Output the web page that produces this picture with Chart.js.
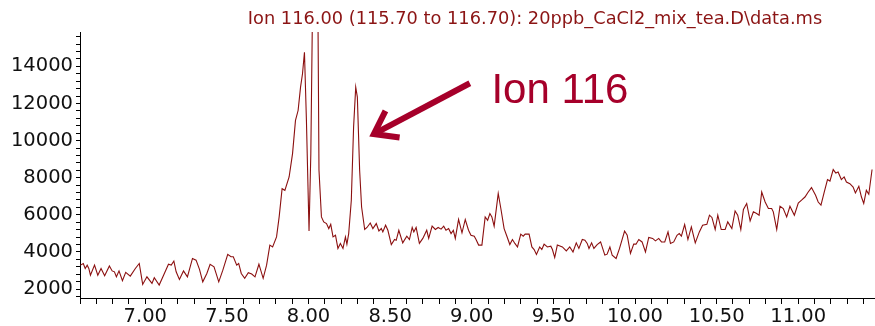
<!DOCTYPE html>
<html>
<head>
<meta charset="utf-8">
<title>Ion 116 chromatogram</title>
<script src="https://cdn.jsdelivr.net/npm/chart.js@4.4.1/dist/chart.umd.min.js"></script>
<style>
    html, body { margin: 0; padding: 0; background: #fff; }
    #wrap { position: relative; width: 875px; height: 326px; }
</style>
</head>
<body>
<div id="wrap"><canvas id="ionChart"></canvas></div>
<script>
// Retention time (min) and abundance
const times = [
    6.603, 6.620, 6.632, 6.644, 6.654, 6.664, 6.689, 6.709, 6.729, 6.751,
    6.780, 6.797, 6.811, 6.823, 6.839, 6.860, 6.880, 6.908, 6.939, 6.963,
    6.984, 7.010, 7.041, 7.055, 7.085, 7.112, 7.142, 7.159, 7.175, 7.189,
    7.209, 7.234, 7.258, 7.289, 7.311, 7.332, 7.352, 7.377, 7.397, 7.421,
    7.450, 7.475, 7.505, 7.525, 7.539, 7.560, 7.572, 7.588, 7.609, 7.631,
    7.652, 7.672, 7.696, 7.722, 7.743, 7.763, 7.780, 7.804, 7.820, 7.838,
    7.855, 7.881, 7.902, 7.920, 7.936, 7.951, 7.963, 7.975, 7.987, 8.003,
    8.014, 8.028, 8.042, 8.056, 8.064, 8.079, 8.093, 8.110, 8.124, 8.136,
    8.150, 8.165, 8.180, 8.195, 8.211, 8.226, 8.235, 8.246, 8.262, 8.276,
    8.289, 8.299, 8.313, 8.325, 8.344, 8.358, 8.378, 8.394, 8.415, 8.431,
    8.446, 8.455, 8.472, 8.486, 8.507, 8.527, 8.537, 8.553, 8.577, 8.602,
    8.618, 8.635, 8.645, 8.659, 8.679, 8.700, 8.724, 8.736, 8.757, 8.777,
    8.794, 8.812, 8.828, 8.842, 8.858, 8.873, 8.887, 8.899, 8.919, 8.940,
    8.960, 8.980, 8.995, 9.015, 9.026, 9.042, 9.062, 9.082, 9.097, 9.111,
    9.123, 9.137, 9.162, 9.178, 9.198, 9.215, 9.233, 9.249, 9.264, 9.280,
    9.300, 9.315, 9.327, 9.351, 9.368, 9.382, 9.396, 9.416, 9.429, 9.443,
    9.463, 9.484, 9.494, 9.508, 9.524, 9.555, 9.579, 9.600, 9.620, 9.640,
    9.656, 9.677, 9.693, 9.707, 9.718, 9.734, 9.748, 9.768, 9.789, 9.815,
    9.829, 9.846, 9.860, 9.884, 9.905, 9.936, 9.952, 9.972, 9.992, 10.006,
    10.023, 10.043, 10.064, 10.084, 10.108, 10.125, 10.145, 10.162, 10.182, 10.202,
    10.217, 10.237, 10.257, 10.271, 10.284, 10.304, 10.324, 10.345, 10.369, 10.394,
    10.414, 10.440, 10.456, 10.471, 10.491, 10.507, 10.528, 10.552, 10.568, 10.593,
    10.613, 10.629, 10.648, 10.664, 10.684, 10.705, 10.725, 10.745, 10.760, 10.776,
    10.797, 10.817, 10.837, 10.847, 10.868, 10.888, 10.908, 10.929, 10.949, 10.976,
    11.000, 11.020, 11.041, 11.061, 11.081, 11.106, 11.122, 11.139, 11.159, 11.179,
    11.194, 11.214, 11.230, 11.244, 11.264, 11.281, 11.295, 11.316, 11.336, 11.350,
    11.371, 11.387, 11.401, 11.417, 11.432, 11.452
];

const abundance = [
    3290, 3380, 3110, 3290, 3110, 2750, 3290, 2750, 3110, 2720,
    3250, 2980, 2930, 2660, 2980, 2450, 2900, 2700, 3110, 3380,
    2250, 2660, 2310, 2610, 2220, 2750, 3340, 3290, 3510, 2930,
    2520, 2980, 2660, 3650, 3560, 3060, 2390, 2840, 3330, 3200,
    2390, 3020, 3870, 3740, 3740, 3290, 3380, 2840, 2580, 2880,
    2810, 2660, 3340, 2580, 3290, 4370, 4270, 4810, 5890, 7410,
    7320, 8040, 9300, 11090, 11620, 12880, 13600, 14760, 11090, 5130,
    9310, 20000, 22000, 19000, 8400, 5890, 5620, 5530, 5260, 5490,
    4810, 4900, 4190, 4460, 4190, 4810, 4420, 4990, 6790, 10730,
    12880, 12340, 8400, 6420, 5210, 5320, 5560, 5260, 5530, 5130,
    5260, 5080, 5440, 5170, 4400, 4670, 4630, 5170, 4490, 4850,
    4670, 5320, 5080, 5320, 4460, 4730, 5170, 4730, 5390, 5210,
    5320, 5230, 5390, 5170, 5260, 4990, 5170, 4730, 5750, 5030,
    5750, 5170, 4900, 4850, 4670, 4370, 4370, 5890, 5710, 6070,
    5890, 5390, 7150, 6340, 5260, 4850, 4400, 4670, 4460, 4270,
    4960, 4850, 4960, 4960, 4270, 4130, 3870, 4270, 4130, 4420,
    4270, 4310, 4130, 3700, 4370, 4270, 4060, 4270, 4000, 4490,
    4190, 4670, 4630, 4460, 4190, 4490, 4190, 4400, 4540, 3830,
    3880, 4270, 3830, 3650, 4190, 5130, 4900, 3920, 4420, 4420,
    4670, 4540, 4000, 4780, 4730, 4600, 4730, 4540, 4540, 5080,
    4460, 4540, 4900, 4990, 4850, 5480, 4670, 5350, 4490, 5080,
    5440, 5490, 5980, 5860, 5210, 5980, 5210, 5210, 5620, 5260,
    6210, 5980, 5210, 6290, 6610, 5670, 6160, 6070, 5980, 7230,
    6690, 6340, 6340, 6160, 5210, 6460, 6340, 5890, 6460, 5980,
    6640, 6790, 6960, 7230, 7470, 7050, 6690, 6520, 7230, 7900,
    7820, 8440, 8250, 8310, 7900, 8040, 7770, 7680, 7500, 7180,
    7540, 6960, 6610, 7320, 7110, 8440
];

// Axis ranges and labelled ticks
const xRange = [6.6, 11.47];
const yRange = [1520, 15850];
const xMinorStep = 0.1;
const xLabelStep = 0.5;
const yMinorStep = 400;
const yLabelStep = 2000;

const titleText = 'Ion 116.00 (115.70 to 116.70): 20ppb_CaCl2_mix_tea.D\\data.ms';
const noteText = 'Ion 116';
// arrow tail and tip, in data units (time, abundance)
const arrowTail = [8.988, 13090];
const arrowTip = [8.400, 10350];
const notePos = [9.12, 12000];

const traceColor = '#8b0f0f';
const noteColor = '#a6002a';

function stepTicks(from, to, step) {
    const out = [];
    const start = Math.ceil(from / step - 1e-9);
    const end = Math.floor(to / step + 1e-9);
    for (let i = start; i <= end; i++) {
        out.push({ value: +(i * step).toFixed(6) });
    }
    return out;
}

// Title and "Ion 116" arrow callout
const annotatePlugin = {
    id: 'annotate',
    afterDraw(chart) {
        const ctx = chart.ctx;
        const xs = chart.scales.x;
        const ys = chart.scales.y;
        ctx.save();

        ctx.fillStyle = '#8b1414';
        ctx.font = '17.8px "DejaVu Sans"';
        ctx.textAlign = 'center';
        ctx.textBaseline = 'alphabetic';
        ctx.fillText(titleText, 535, 24);

        const tx = xs.getPixelForValue(arrowTail[0]);
        const ty = ys.getPixelForValue(arrowTail[1]);
        const hx = xs.getPixelForValue(arrowTip[0]);
        const hy = ys.getPixelForValue(arrowTip[1]);
        const ang = Math.atan2(ty - hy, tx - hx);
        const wing = 26;
        const spread = 0.62;

        ctx.strokeStyle = noteColor;
        ctx.lineWidth = 6;
        ctx.lineCap = 'butt';
        ctx.lineJoin = 'miter';
        ctx.beginPath();
        ctx.moveTo(tx, ty);
        ctx.lineTo(hx + 3 * Math.cos(ang), hy + 3 * Math.sin(ang));
        ctx.stroke();
        ctx.beginPath();
        ctx.moveTo(hx + wing * Math.cos(ang - spread), hy + wing * Math.sin(ang - spread));
        ctx.lineTo(hx, hy);
        ctx.lineTo(hx + wing * Math.cos(ang + spread), hy + wing * Math.sin(ang + spread));
        ctx.stroke();

        ctx.fillStyle = noteColor;
        ctx.font = '42px "Liberation Sans", Arial, sans-serif';
        ctx.textAlign = 'left';
        ctx.fillText(noteText, xs.getPixelForValue(notePos[0]), ys.getPixelForValue(notePos[1]));

        ctx.restore();
    }
};

const points = times.map(function(t, i) {
    return { x: t, y: abundance[i] };
});

new Chart(document.getElementById('ionChart').getContext('2d'), {
    type: 'line',
    data: {
        datasets: [{
            data: points,
            borderColor: traceColor,
            borderWidth: 1.1,
            pointRadius: 0,
            tension: 0,
            fill: false
        }]
    },
    options: {
        responsive: true,
        maintainAspectRatio: false,
        animation: false,
        layout: { padding: { top: 32, right: 0, left: 0, bottom: 0 } },
        plugins: {
            legend: { display: false },
            tooltip: { enabled: false },
            title: { display: false }
        },
        scales: {
            x: {
                type: 'linear',
                min: xRange[0],
                max: xRange[1],
                afterBuildTicks: function(axis) {
                    axis.ticks = stepTicks(xRange[0], xRange[1], xMinorStep);
                },
                afterFit: function(axis) { axis.height = 28; },
                border: { color: '#000', width: 1 },
                grid: {
                    drawOnChartArea: false,
                    drawTicks: true,
                    tickLength: 6,
                    tickColor: '#000'
                },
                ticks: {
                    autoSkip: false,
                    maxRotation: 0,
                    padding: 1,
                    color: '#111',
                    font: { family: 'DejaVu Sans', size: 19.5 },
                    callback: function(v) {
                        const n = Math.round(v / xMinorStep);
                        const k = Math.round(xLabelStep / xMinorStep);
                        return (n % k === 0 && v >= 7) ? v.toFixed(2) : '';
                    }
                }
            },
            y: {
                type: 'linear',
                min: yRange[0],
                max: yRange[1],
                afterBuildTicks: function(axis) {
                    axis.ticks = stepTicks(yRange[0], yRange[1], yMinorStep);
                },
                afterFit: function(axis) { axis.width = 80; },
                border: { color: '#000', width: 1 },
                grid: {
                    drawOnChartArea: false,
                    drawTicks: true,
                    tickLength: 4,
                    tickColor: '#000'
                },
                ticks: {
                    autoSkip: false,
                    padding: 3,
                    color: '#111',
                    font: { family: 'DejaVu Sans', size: 19.5 },
                    callback: function(v) {
                        return (Math.round(v) % yLabelStep === 0) ? String(Math.round(v)) : '';
                    }
                }
            }
        }
    },
    plugins: [annotatePlugin]
});
</script>
</body>
</html>
